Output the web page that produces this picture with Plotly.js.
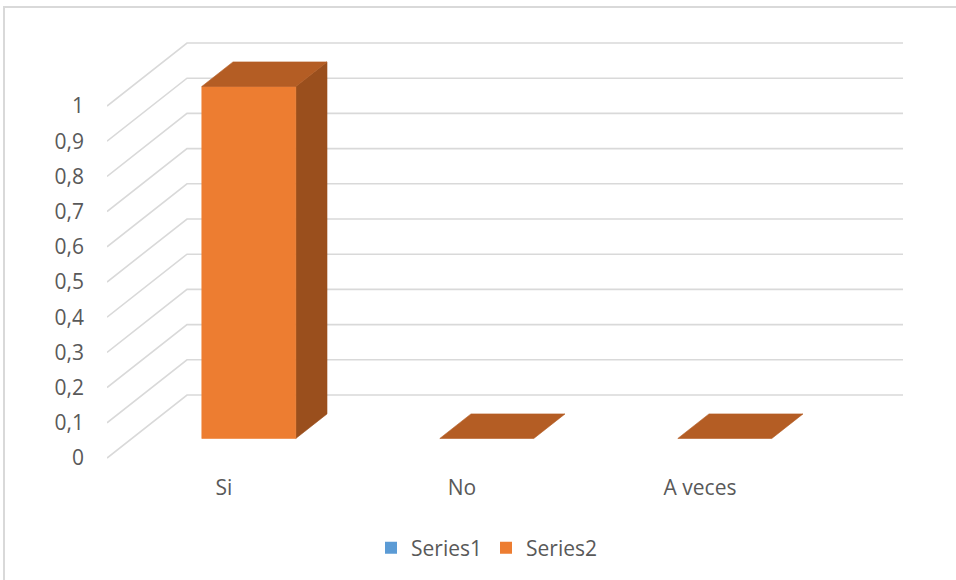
<!DOCTYPE html>
<html>
<head>
<meta charset="utf-8">
<script src="https://cdn.plot.ly/plotly-3.0.1.min.js"></script>
<style>
  html, body { margin: 0; padding: 0; background: #fff; }
  #chart { width: 956px; height: 580px; }
</style>
</head>
<body>
<div id="chart"></div>
<script>
// Data
const categories = ['Si', 'No', 'A veces'];
const series1 = [null, null, null];
const series2 = [1, 0, 0];
const yTickVals = [0, 0.1, 0.2, 0.3, 0.4, 0.5, 0.6, 0.7, 0.8, 0.9, 1];

// Figure geometry (pixels)
const W = 956, H = 580;
const M = { l: 107, r: 53, t: 30, b: 112 };
const plotW = W - M.l - M.r, plotH = H - M.t - M.b;
const pxPerCat = 238;          // horizontal distance between categories
const pxPerUnit = 352;         // vertical pixels per value unit
const firstCatPx = 224;        // front-plane centre of the first category
const zeroPx = 458;            // front-plane pixel row of value 0

// Axis ranges derived from the geometry
const xMin = (M.l - firstCatPx) / pxPerCat;
const xMax = xMin + plotW / pxPerCat;
const yMin = -((M.t + plotH) - zeroPx) / pxPerUnit;
const yMax = yMin + plotH / pxPerUnit;

// Oblique depth direction (full depth of the box), in data units
const DX = 80 / pxPerCat;
const DY = 63 / pxPerUnit;
const D_FRONT = 0.31, D_BACK = 0.70;  // depth span of the columns
const BAR_W = 94 / pxPerCat;          // column width in category units

function proj(x, v, d) { return [x + d * DX, v + d * DY]; }

const traces = [];

// Gridlines: back wall plus the receding side wall lines
const gx = [], gy = [];
yTickVals.forEach(v => {
  let a = proj(xMin, v, 0), b = proj(xMin, v, 1);
  gx.push(a[0], b[0], xMax, null);
  gy.push(a[1], b[1], b[1], null);
});
traces.push({
  type: 'scatter', mode: 'lines', x: gx, y: gy,
  line: { color: '#d9d9d9', width: 1.6 },
  hoverinfo: 'skip', showlegend: false, cliponaxis: false
});

function face(pts, color) {
  const xs = pts.map(p => p[0]), ys = pts.map(p => p[1]);
  xs.push(xs[0]); ys.push(ys[0]);
  traces.push({
    type: 'scatter', mode: 'lines', x: xs, y: ys, fill: 'toself',
    fillcolor: color, line: { color: color, width: 0.6 },
    hoverinfo: 'skip', showlegend: false
  });
}

function column(i, base, top, cFront, cSide, cTop) {
  const xl = i - BAR_W / 2, xr = i + BAR_W / 2;
  if (top > base) {
    face([proj(xr, base, D_FRONT), proj(xr, base, D_BACK), proj(xr, top, D_BACK), proj(xr, top, D_FRONT)], cSide);
    face([proj(xl, base, D_FRONT), proj(xr, base, D_FRONT), proj(xr, top, D_FRONT), proj(xl, top, D_FRONT)], cFront);
  }
  face([proj(xl, top, D_FRONT), proj(xr, top, D_FRONT), proj(xr, top, D_BACK), proj(xl, top, D_BACK)], cTop);
}

// Stacked columns: Series1 at the bottom, Series2 on top
categories.forEach((c, i) => {
  const s1 = series1[i] || 0;
  if (series1[i] !== null) column(i, 0, s1, '#5b9bd5', '#3f79ae', '#4a85bd');
  if (series2[i] !== null) column(i, s1, s1 + series2[i], '#ed7d31', '#9a4f1d', '#b45d24');
});

// Legend entries
traces.push({ type: 'scatter', mode: 'markers', x: [null], y: [null], name: 'Series1',
  marker: { symbol: 'square', size: 12, color: '#5b9bd5' } });
traces.push({ type: 'scatter', mode: 'markers', x: [null], y: [null], name: 'Series2',
  marker: { symbol: 'square', size: 12, color: '#ed7d31' } });

const font = { family: 'Open Sans, sans-serif', size: 21, color: '#595959' };

const layout = {
  width: W, height: H,
  margin: M,
  paper_bgcolor: '#ffffff', plot_bgcolor: 'rgba(0,0,0,0)',
  separators: ',.',
  font: font,
  hovermode: false,
  showlegend: true,
  legend: {
    orientation: 'h', x: (486 - M.l) / plotW, xanchor: 'center',
    y: ((M.t + plotH) - 548) / plotH, yanchor: 'middle',
    entrywidth: 70, entrywidthmode: 'pixels',
    font: font, bgcolor: 'rgba(0,0,0,0)'
  },
  xaxis: {
    range: [xMin, xMax], tickvals: categories.map((c, i) => i), ticktext: categories,
    showgrid: false, zeroline: false, showline: false, ticks: '',
    ticklabelstandoff: 5, fixedrange: true
  },
  yaxis: {
    range: [yMin, yMax], tickvals: yTickVals,
    showgrid: false, zeroline: false, showline: false, ticks: '',
    ticklabelstandoff: 22, fixedrange: true
  },
  shapes: [{
    type: 'rect', xref: 'paper', yref: 'paper',
    x0: (4 - M.l) / plotW, x1: (962 - M.l) / plotW,
    y0: ((M.t + plotH) - 7) / plotH, y1: ((M.t + plotH) - 590) / plotH,
    line: { color: '#d9d9d9', width: 2 }, layer: 'below'
  }]
};

Plotly.newPlot('chart', traces, layout, { displayModeBar: false, staticPlot: true });
</script>
</body>
</html>
